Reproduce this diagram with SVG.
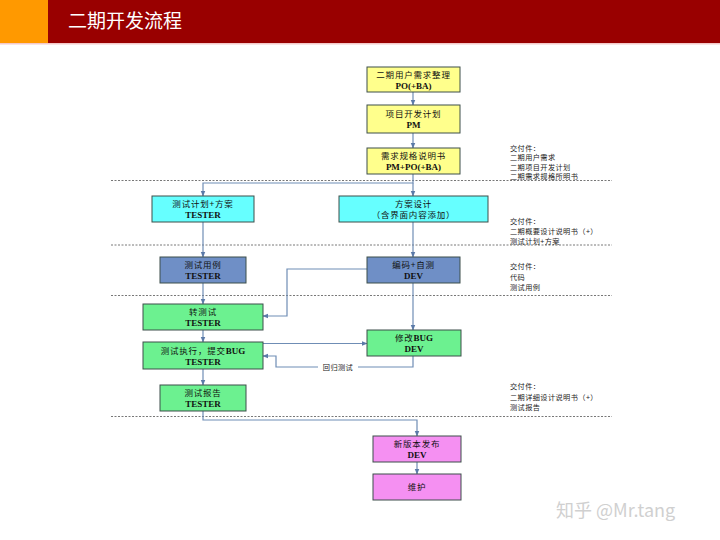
<svg xmlns="http://www.w3.org/2000/svg" width="720" height="540" viewBox="0 0 720 540">
<style>
.box{stroke:#3d4f4a;stroke-width:1}
.y{fill:#ffff8c}
.c{fill:#66ffff}
.b{fill:#6f8fc6}
.g{fill:#6cf190}
.p{fill:#f590f2}
.t{font-family:"Liberation Serif","Noto Sans CJK SC",serif;font-size:9px;font-weight:bold;fill:#111;text-anchor:middle}
.k{font-family:"Noto Sans CJK SC",sans-serif;font-size:8.5px;font-weight:normal;letter-spacing:0.8px;fill:#111;text-anchor:middle}
.kb{font-family:"Liberation Serif",serif;font-weight:bold;font-size:9px;letter-spacing:0}
.d{font-family:"Noto Sans CJK SC",sans-serif;font-size:7.2px;letter-spacing:0.4px;fill:#222}
.sep{stroke:#555;stroke-width:0.8;stroke-dasharray:2,1.5;fill:none}
.ln{stroke:#6f8db5;stroke-width:1.2;fill:none}
</style>
<defs>
<marker id="ah" viewBox="0 0 10 10" refX="9" refY="5" markerWidth="6" markerHeight="6" orient="auto" markerUnits="userSpaceOnUse">
<path d="M0,1 L10,5 L0,9 z" fill="#5b7aa8"/>
</marker>
</defs>
<rect width="720" height="540" fill="#fff"/>
<g id="header">
<rect x="0" y="0" width="48" height="43" fill="#ff9900"/>
<rect x="48" y="0" width="672" height="43" fill="#990000"/>
<rect x="0" y="43" width="720" height="1.5" fill="#f4c9c9"/>
<text x="68" y="28" font-family="Noto Sans CJK SC,sans-serif" font-size="19" fill="#fff">二期开发流程</text>
</g>
<g id="separators">
<line class="sep" x1="111" y1="180.5" x2="612" y2="180.5"/>
<line class="sep" x1="111" y1="245" x2="612" y2="245"/>
<line class="sep" x1="111" y1="295.5" x2="612" y2="295.5"/>
<line class="sep" x1="111" y1="416.5" x2="612" y2="416.5"/>
</g>
<g id="connectors">
<line class="ln" x1="413" y1="92" x2="413" y2="105" marker-end="url(#ah)"/>
<line class="ln" x1="413" y1="133" x2="413" y2="148" marker-end="url(#ah)"/>
<polyline class="ln" points="413,174 413,183 203,183 203,196" marker-end="url(#ah)"/>
<line class="ln" x1="413" y1="183" x2="413" y2="196" marker-end="url(#ah)"/>
<line class="ln" x1="203" y1="222" x2="203" y2="257" marker-end="url(#ah)"/>
<line class="ln" x1="413" y1="222" x2="413" y2="257" marker-end="url(#ah)"/>
<line class="ln" x1="203" y1="283" x2="203" y2="304" marker-end="url(#ah)"/>
<polyline class="ln" points="367,269 287,269 287,316 263,316" marker-end="url(#ah)"/>
<line class="ln" x1="413" y1="283" x2="413" y2="330" marker-end="url(#ah)"/>
<line class="ln" x1="203" y1="330" x2="203" y2="342" marker-end="url(#ah)"/>
<line class="ln" x1="263" y1="343.5" x2="367" y2="343.5" marker-end="url(#ah)"/>
<polyline class="ln" points="413,356 413,367 276,367 276,356 263,356" marker-end="url(#ah)"/>
<rect x="318" y="361" width="40" height="11" fill="#fff"/>
<text x="338" y="370" class="d" text-anchor="middle">回归测试</text>
<line class="ln" x1="203" y1="369" x2="203" y2="385" marker-end="url(#ah)"/>
<polyline class="ln" points="203,411 203,420 417,420 417,436" marker-end="url(#ah)"/>
<line class="ln" x1="417" y1="462" x2="417" y2="474" marker-end="url(#ah)"/>
</g>
<g id="n1"><rect class="box y" x="367" y="67" width="93" height="25"/><text class="k" x="413.5" y="78">二期用户需求整理</text><text class="t" x="413.5" y="89">PO(+BA)</text></g>
<g id="n2"><rect class="box y" x="367" y="105" width="93" height="28"/><text class="k" x="413.5" y="117">项目开发计划</text><text class="t" x="413.5" y="128">PM</text></g>
<g id="n3"><rect class="box y" x="367" y="148" width="93" height="26"/><text class="k" x="413.5" y="159">需求规格说明书</text><text class="t" x="413.5" y="170">PM+PO(+BA)</text></g>
<g id="n4"><rect class="box c" x="152" y="196" width="102" height="26"/><text class="k" x="203" y="207">测试计划+方案</text><text class="t" x="203" y="218">TESTER</text></g>
<g id="n5"><rect class="box c" x="339" y="196" width="149" height="26"/><text class="k" x="413.5" y="207">方案设计</text><text class="k" x="413.5" y="218">（含界面内容添加）</text></g>
<g id="n6"><rect class="box b" x="160" y="257" width="86" height="26"/><text class="k" x="203" y="268">测试用例</text><text class="t" x="203" y="279">TESTER</text></g>
<g id="n7"><rect class="box b" x="367" y="257" width="93" height="26"/><text class="k" x="413.5" y="268">编码+自测</text><text class="t" x="413.5" y="279">DEV</text></g>
<g id="n8"><rect class="box g" x="143" y="304" width="120" height="26"/><text class="k" x="203" y="315">转测试</text><text class="t" x="203" y="326">TESTER</text></g>
<g id="n9"><rect class="box g" x="143" y="342" width="120" height="27"/><text class="k" x="203" y="354">测试执行，提交<tspan class="kb">BUG</tspan></text><text class="t" x="203" y="365">TESTER</text></g>
<g id="n10"><rect class="box g" x="367" y="330" width="94" height="26"/><text class="k" x="414" y="341">修改<tspan class="kb">BUG</tspan></text><text class="t" x="414" y="352">DEV</text></g>
<g id="n11"><rect class="box g" x="160" y="385" width="86" height="26"/><text class="k" x="203" y="396">测试报告</text><text class="t" x="203" y="407">TESTER</text></g>
<g id="n12"><rect class="box p" x="373" y="436" width="88" height="26"/><text class="k" x="417" y="447">新版本发布</text><text class="t" x="417" y="458">DEV</text></g>
<g id="n13"><rect class="box p" x="373" y="474" width="88" height="26"/><text class="k" x="417" y="490">维护</text></g>
<g id="deliverables">
<text class="d" x="510" y="150.5">交付件：</text>
<text class="d" x="510" y="160">二期用户需求</text>
<text class="d" x="510" y="169.5">二期项目开发计划</text>
<text class="d" x="510" y="179">二期需求规格所明书</text>
<text class="d" x="510" y="224">交付件：</text>
<text class="d" x="510" y="234">二期概要设计说明书（+）</text>
<text class="d" x="510" y="243.5">测试计划+方案</text>
<text class="d" x="510" y="269">交付件：</text>
<text class="d" x="510" y="279.5">代码</text>
<text class="d" x="510" y="290">测试用例</text>
<text class="d" x="510" y="389">交付件：</text>
<text class="d" x="510" y="399.5">二期详细设计说明书（+）</text>
<text class="d" x="510" y="410">测试报告</text>
</g>
<text x="556" y="517" font-family="Noto Sans CJK SC,sans-serif" font-size="18" fill="#d0d0d0">知乎 @Mr.tang</text>
</svg>
